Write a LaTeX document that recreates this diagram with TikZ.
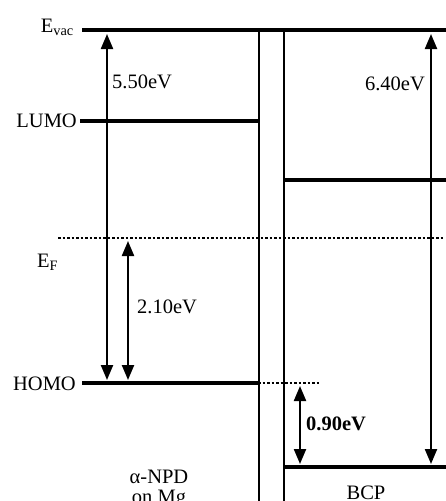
\documentclass[tikz,border=0pt]{standalone}
\usepackage{fontspec}
\setmainfont{Liberation Serif}
\usetikzlibrary{arrows.meta,calc,positioning}

\tikzset{
  level/.style={line width=4.5pt},
  wall/.style={line width=2pt},
  fermi/.style={line width=2pt,dash pattern=on 2.5pt off 2pt},
  span/.style={line width=2.2pt,{Triangle[width=12pt,length=15pt]}-{Triangle[width=12pt,length=15pt]}},
  lbl/.style={inner sep=0pt,font=\fontsize{20.5}{23}\selectfont},
}

\begin{document}
\begin{tikzpicture}[x=1pt,y=-1pt]
    \useasboundingbox (0,0) rectangle (446,501);
    % energy levels
    \coordinate (vacL) at (82,30);   \coordinate (vacR) at (446,30);
    \coordinate (lumoL) at (80,121); \coordinate (lumoR) at (258,121);
    \coordinate (homoL) at (82,383); \coordinate (homoR) at (258,383);
    \coordinate (homoD) at (320,383);
    \coordinate (efL) at (58,238);   \coordinate (efR) at (444,238);
    \coordinate (blumoL) at (284,180); \coordinate (blumoR) at (446,180);
    \coordinate (bhomoL) at (284,467); \coordinate (bhomoR) at (446,467);
    \draw[level] (vacL)--(vacR);
    \draw[level] (lumoL)--(lumoR);
    \draw[level] (homoL)--(homoR);
    \draw[level] (blumoL)--(blumoR);
    \draw[level] (bhomoL)--(bhomoR);
    \draw[fermi] (efL)--(efR);
    \draw[fermi] (homoR)--(homoD);
    % interface walls
    \coordinate (w1t) at (259,30); \coordinate (w1b) at (259,501);
    \coordinate (w2t) at (284,30); \coordinate (w2b) at (284,501);
    \draw[wall] (w1t)--(w1b);
    \draw[wall] (w2t)--(w2b);
    % gaps
    \coordinate (a1t) at (107,34);  \coordinate (a1b) at (107,380);
    \coordinate (a2t) at (128,241); \coordinate (a2b) at (128,380);
    \coordinate (a3t) at (431,34);  \coordinate (a3b) at (431,464);
    \coordinate (a4t) at (300,386); \coordinate (a4b) at (300,464);
    \draw[span] (a1t)--(a1b);
    \draw[span] (a2t)--(a2b);
    \draw[span] (a3t)--(a3b);
    \draw[span] (a4t)--(a4b);
    % labels
    \node[lbl,anchor=base east] (evac) at (74,32) {E\textsubscript{vac}};
    \node[lbl,anchor=base east] (lumo) at (77,127) {LUMO};
    \node[lbl,anchor=base east] (homo) at (76,390) {HOMO};
    \node[lbl,anchor=base west] (ef) at (37,267) {E\textsubscript{F}};
    \node[lbl,anchor=base west] (g1) at (112,88) {5.50eV};
    \node[lbl,anchor=base east] (g3) at (425,90) {6.40eV};
    \node[lbl,anchor=base west] (g2) at (137,313) {2.10eV};
    \node[lbl,anchor=base west] (g4) at (306,430) {\textbf{0.90eV}};
    \node[lbl,anchor=base] (npd) at (159,483) {α-NPD};
    \node[lbl,anchor=base] (mg) at (159,503) {on Mg};
    \node[lbl,anchor=base] (bcp) at (366,499) {BCP};
\end{tikzpicture}
\end{document}
